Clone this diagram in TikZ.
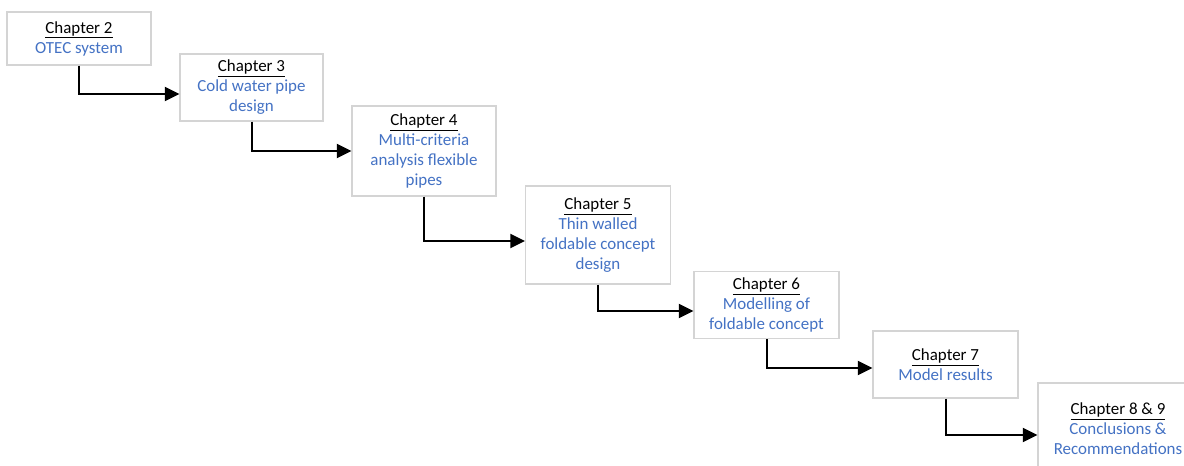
\documentclass[tikz,border=0pt]{standalone}
\usepackage{fontspec}
\setmainfont{Carlito}
\usetikzlibrary{arrows.meta}
\definecolor{chblue}{HTML}{4472C4}
\definecolor{boxgray}{HTML}{D4D4D4}
\begin{document}
\begin{tikzpicture}[x=0.75pt,y=-0.75pt,
  chbox/.style 2 args={draw=boxgray,line width=0.8pt,fill=white,inner sep=0pt,
    minimum width={#1*0.75pt},minimum height={#2*0.75pt},align=center,
    font=\fontsize{12.7}{15}\selectfont},
  conn/.style={line width=1.5pt,-{Triangle[length=11pt,width=10.5pt]}}]
\useasboundingbox (0,0) rectangle (1184,466);
\begin{scope}
\clip (0,0) rectangle (1184,466);
\node[chbox={144}{53}] (b1) at (79,38.5) {\underline{Chapter 2}\\\textcolor{chblue}{OTEC system}};
\node[chbox={143}{67}] (b2) at (251.5,87.5) {\underline{Chapter 3}\\\textcolor{chblue}{Cold water pipe}\\\textcolor{chblue}{design}};
\node[chbox={144}{90}] (b3) at (424,151) {\underline{Chapter 4}\\\textcolor{chblue}{Multi-criteria}\\\textcolor{chblue}{analysis flexible}\\\textcolor{chblue}{pipes}};
\node[chbox={145}{98}] (b4) at (598,235) {\underline{Chapter 5}\\\textcolor{chblue}{Thin walled}\\\textcolor{chblue}{foldable concept}\\\textcolor{chblue}{design}};
\node[chbox={145}{67}] (b5) at (766.5,305) {\underline{Chapter 6}\\\textcolor{chblue}{Modelling of}\\\textcolor{chblue}{foldable concept}};
\node[chbox={145}{67}] (b6) at (945.5,364.5) {\underline{Chapter 7}\\\textcolor{chblue}{Model results}};
\node[chbox={160}{92}] (b7) at (1118,429) {\underline{Chapter 8 \& 9}\\\textcolor{chblue}{Conclusions \&}\\\textcolor{chblue}{Recommendations}};
\end{scope}
\draw[conn] (b1.south) |- (b2.west |- 0,94);
\draw[conn] (b2.south) |- (b3.west |- 0,151);
\draw[conn] (b3.south) |- (b4.west |- 0,241);
\draw[conn] (b4.south) |- (b5.west |- 0,311);
\draw[conn] (b5.south) |- (b6.west |- 0,368);
\draw[conn] (b6.south) |- (b7.west |- 0,435);
\end{tikzpicture}
\end{document}
